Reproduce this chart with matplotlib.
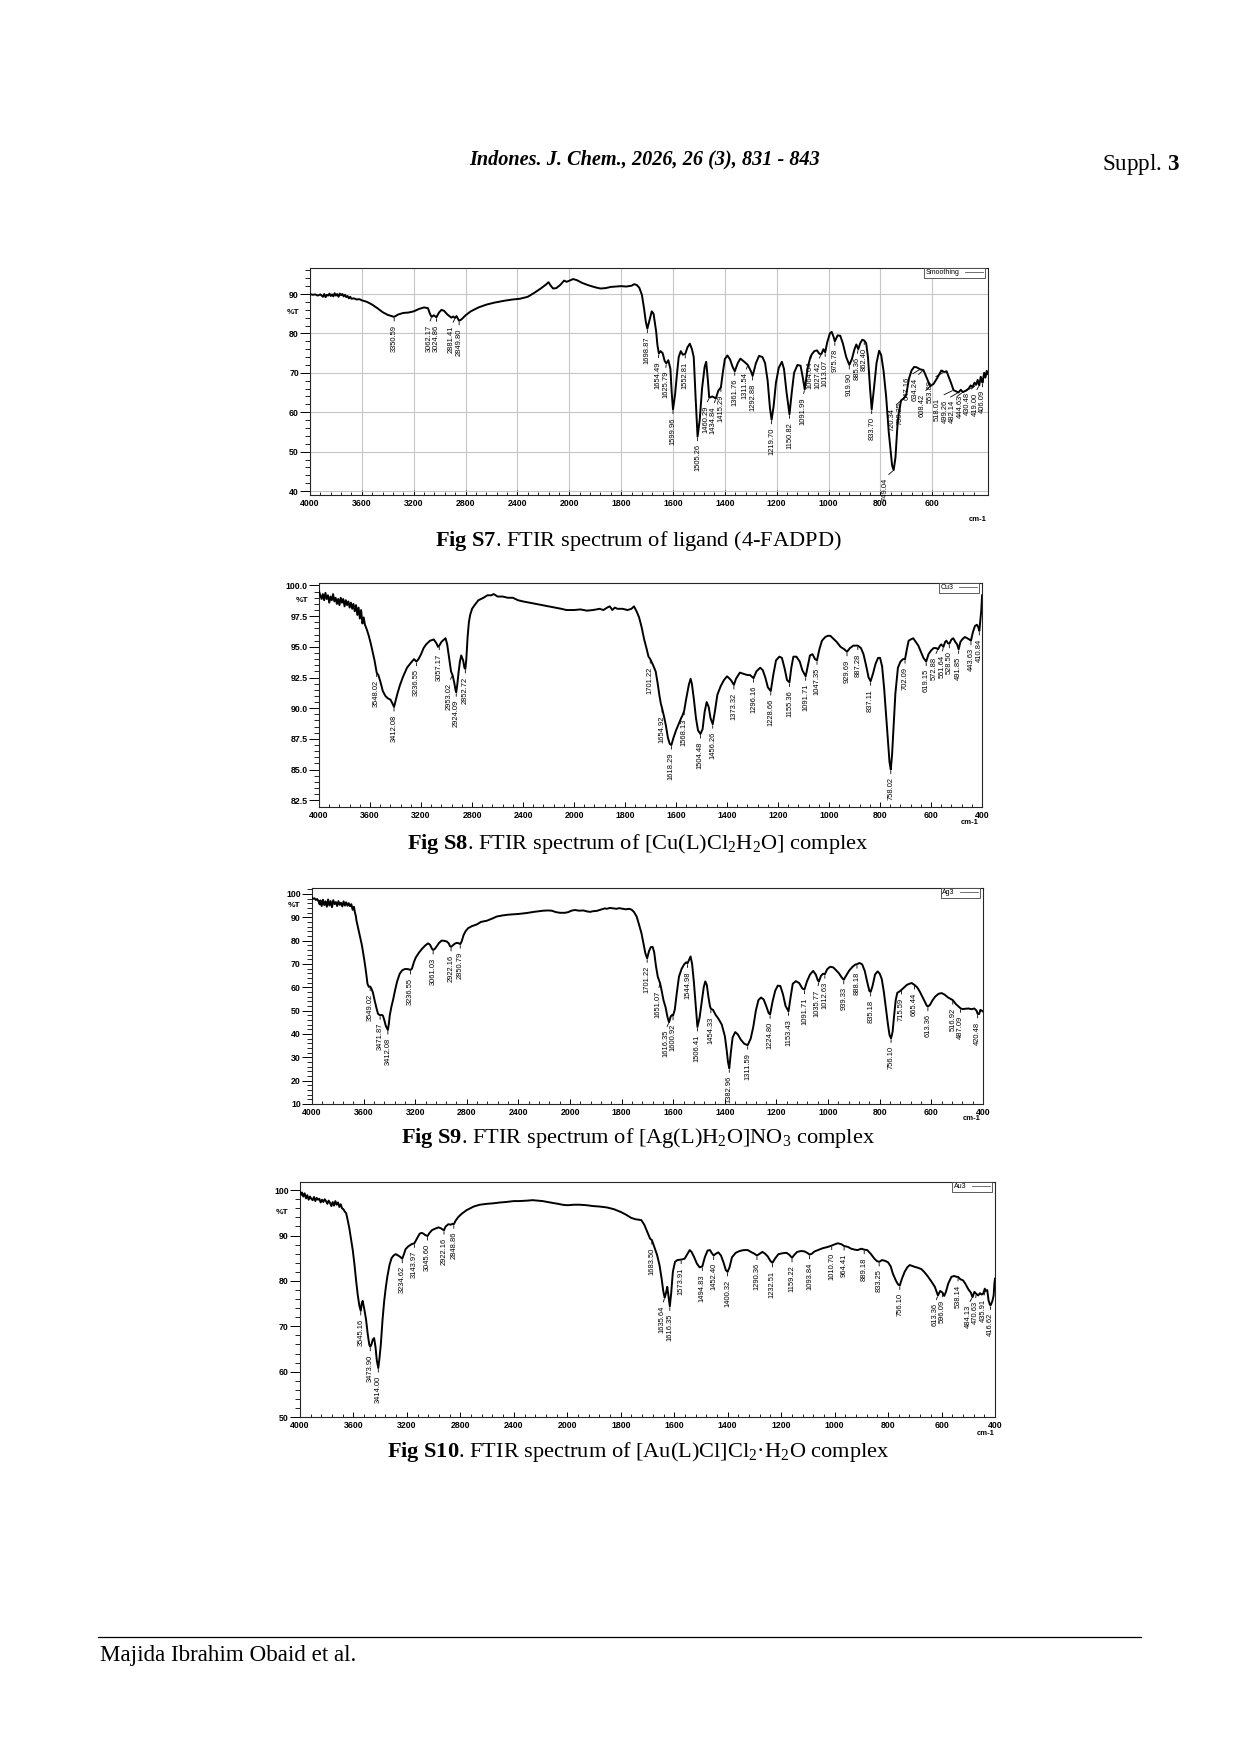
import numpy as np
import matplotlib
matplotlib.use("Agg")
import matplotlib.pyplot as plt
from matplotlib.lines import Line2D

plt.rcParams['font.family'] = ['Liberation Sans', 'DejaVu Sans']
plt.rcParams['mathtext.fontset'] = 'custom'
plt.rcParams['mathtext.rm'] = 'Liberation Serif'
plt.rcParams['mathtext.it'] = 'Liberation Serif:italic'
plt.rcParams['mathtext.bf'] = 'Liberation Serif:bold'

# ---- Fig S7: ligand (4-FADPD)
s7_wn = [4000, 3980, 3960, 3940, 3920, 3900, 3890, 3880, 3870, 3860, 3850, 3840, 3830, 3820, 3810,
         3800, 3790, 3780, 3770, 3760, 3750, 3740, 3730, 3720, 3710, 3700, 3690, 3680, 3660, 3640,
         3620, 3600, 3560, 3520, 3480, 3440, 3400, 3350.59, 3320, 3280, 3240, 3200, 3160, 3120, 3090,
         3075, 3062.17, 3045, 3024.86, 3005, 2985, 2965, 2940, 2910, 2895, 2881.41, 2870, 2849.80, 2830,
         2800, 2760, 2700, 2640, 2580, 2500, 2440, 2380, 2320, 2270, 2220, 2180, 2160, 2145, 2125,
         2100, 2070, 2040, 2020, 2005, 1985, 1970, 1950, 1925, 1900, 1880, 1860, 1840, 1820, 1800,
         1780, 1760, 1750, 1740, 1730, 1720, 1712, 1705, 1698.87, 1690, 1682, 1675, 1665, 1660,
         1654.49, 1648, 1640, 1632, 1625.79, 1618, 1610, 1605, 1599.96, 1592, 1585, 1578, 1570, 1562,
         1552.81, 1544, 1535, 1527, 1520, 1513, 1505.26, 1497, 1488, 1478, 1472, 1466, 1460.29, 1448,
         1434.84, 1425, 1415.29, 1408, 1400, 1390, 1380, 1370, 1361.76, 1350, 1340, 1325, 1311.54, 1300,
         1292.88, 1280, 1268, 1255, 1245, 1235, 1226, 1219.70, 1212, 1203, 1192, 1180, 1172, 1162,
         1150.82, 1142, 1133, 1120, 1108, 1100, 1091.99, 1080, 1070, 1064.64, 1055, 1045, 1035, 1027.42,
         1020, 1013.07, 1005, 995, 988, 980, 975.78, 965, 955, 945, 932, 919.90, 910, 900, 893, 885.36,
         878, 870, 862.40, 855, 848, 840, 833.70, 825, 815, 805, 797, 788, 778, 768, 755, 749.04, 742,
         735, 730, 720.34, 710, 700.25, 690, 680, 670, 660, 647.16, 634.24, 620, 608.42, 595, 580, 565,
         553.89, 545, 528, 518.01, 508, 499.26, 490, 482.14, 470, 460, 452, 444.63, 437, 430.48, 425,
         419.00, 413, 409, 406.09, 400, 395, 390, 385]
s7_t = [90.0, 89.8, 89.9, 89.6, 89.9, 89.3, 90.0, 89.2, 89.8, 89.6, 90.1, 89.5, 89.9, 89.4, 90.2,
        89.6, 90.0, 89.3, 90.1, 89.7, 90.0, 89.4, 89.8, 89.2, 89.5, 88.9, 89.3, 88.8, 88.9, 88.6,
        88.7, 88.4, 88.0, 87.3, 86.4, 85.4, 84.7, 84.2, 84.8, 85.2, 85.3, 85.6, 86.2, 86.6, 86.4,
        85.0, 84.2, 84.6, 84.1, 85.3, 86.0, 85.7, 84.8, 84.0, 84.3, 83.9, 84.4, 83.2, 83.6,
        84.6, 85.6, 86.6, 87.3, 87.8, 88.3, 88.6, 88.8, 89.3, 90.3, 91.4, 92.4, 93.0, 92.2, 91.4,
        91.5, 92.3, 93.4, 93.1, 93.3, 93.8, 93.5, 92.8, 92.2, 91.7, 91.4, 91.5, 91.8, 91.9, 92.0,
        91.9, 92.1, 92.5, 92.3, 91.6, 89.8, 86.5, 83.0, 81.2, 83.5, 85.6, 85.0, 80.5, 77.0,
        74.9, 75.5, 75.0, 73.0, 72.4, 73.2, 71.0, 65.0, 60.7, 64.5, 69.5, 74.0, 75.5, 74.6,
        74.8, 76.5, 77.4, 76.0, 74.0, 64.0, 53.8, 58.0, 66.0, 71.5, 72.8, 68.5, 63.7, 64.0,
        63.5, 65.5, 66.3, 70.0, 73.5, 74.4, 73.4, 71.5, 70.4, 72.5, 73.6, 72.8, 72.0, 70.5,
        69.2, 72.5, 74.3, 74.0, 72.5, 68.0, 61.0, 58.1, 61.5, 67.5, 71.3, 72.8, 71.0, 65.0,
        59.5, 65.0, 70.0, 72.0, 71.8, 69.0, 65.8, 71.5, 74.0, 74.7, 75.5, 75.7, 74.8, 74.8,
        76.0, 75.2, 77.8, 80.0, 80.4, 79.0, 78.0, 79.5, 79.4, 77.5, 74.0, 72.0, 73.5, 76.0, 77.2, 76.0,
        77.5, 78.4, 78.2, 77.5, 74.0, 66.0, 60.7, 66.0, 72.5, 75.6, 74.5, 70.5, 64.0, 55.0, 46.5, 45.3, 48.5,
        56.0, 59.5, 63.0, 63.5, 64.5, 68.5, 70.6, 71.5, 71.4, 70.9, 70.7, 68.5, 66.6, 67.2, 68.8, 70.6,
        70.2, 70.4, 67.5, 65.6, 65.3, 65.0, 65.7, 65.1, 65.5, 66.0, 66.8, 66.4, 67.5, 67.0, 68.2,
        66.8, 69.0, 68.0, 67.5, 70.0, 68.8, 70.5, 69.7]
s7_peaks = ['3350.59', '3062.17', '3024.86', '2881.41', '2849.80', '1698.87', '1654.49', '1625.79',
            '1599.96', '1552.81', '1505.26', '1460.29', '1434.84', '1415.29', '1361.76', '1311.54',
            '1292.88', '1219.70', '1150.82', '1091.99', '1064.64', '1027.42', '1013.07', '975.78',
            '919.90', '885.36', '862.40', '833.70', '749.04', '720.34', '700.25', '647.16', '634.24',
            '608.42', '553.89', '518.01', '499.26', '482.14', '444.63', '430.48', '419.00', '406.09']

# ---- Fig S8: Cu complex
s8_wn = [4000, 3990, 3980, 3970, 3960, 3950, 3940, 3930, 3920, 3910, 3900, 3890, 3880, 3870, 3860,
         3850, 3840, 3830, 3820, 3810, 3800, 3790, 3780, 3770, 3760, 3750, 3740, 3730, 3720, 3710,
         3700, 3690, 3680, 3670, 3660, 3650, 3640, 3625, 3610, 3595, 3580, 3565, 3548.02, 3535, 3520,
         3500, 3480, 3460, 3440, 3425, 3412.08, 3400, 3385, 3365, 3340, 3310, 3280, 3255, 3236.55,
         3220, 3200, 3180, 3160, 3130, 3100, 3080, 3067, 3057.17, 3040, 3020, 3008, 2995, 2980, 2965,
         2953.02, 2940, 2930, 2924.09, 2915, 2905, 2895, 2885, 2870, 2860, 2852.72, 2845, 2835, 2825,
         2815, 2800, 2780, 2750, 2710, 2680, 2650, 2630, 2600, 2560, 2520, 2480, 2440, 2400, 2350,
         2300, 2250, 2200, 2150, 2100, 2060, 2030, 2000, 1975, 1950, 1925, 1900, 1885, 1870, 1860,
         1850, 1840, 1830, 1810, 1790, 1775, 1765, 1755, 1745, 1735, 1725, 1715, 1708, 1701.22, 1690,
         1680, 1672, 1665, 1660, 1654.92, 1647, 1640, 1632, 1625, 1618.29, 1610, 1600, 1590, 1580,
         1575, 1568.13, 1560, 1550, 1543, 1538, 1530, 1522, 1514, 1504.48, 1496, 1488, 1480, 1472,
         1465, 1456.26, 1448, 1438, 1425, 1412, 1400, 1385, 1373.32, 1365, 1350, 1335, 1320, 1310,
         1296.16, 1285, 1270, 1260, 1250, 1240, 1228.66, 1218, 1208, 1195, 1185, 1175, 1165, 1155.36,
         1148, 1140, 1128, 1115, 1105, 1091.71, 1083, 1075, 1065, 1055, 1047.35, 1038, 1028, 1015,
         1005, 995, 985, 970, 955, 940, 929.69, 918, 905, 895, 887.28, 875, 865, 855, 845, 837.11,
         828, 818, 808, 800, 792, 784, 776, 769, 763, 758.02, 753, 747, 740, 730, 720, 710, 702.09,
         695, 688, 680, 670, 660, 650, 640, 630, 619.15, 610, 600, 590, 580, 572.88, 565, 560, 551.64,
         545, 540, 534, 528.50, 520, 513, 505, 498, 491.85, 485, 478, 468, 458, 450, 443.63, 436,
         428, 420, 415, 410.84, 406, 403, 400]
s8_t = [99.5, 99.2, 98.9, 99.3, 98.8, 99.4, 98.9, 99.2, 98.6, 99.1, 98.8, 99.3, 98.7, 99.0, 98.5,
        98.9, 98.4, 99.0, 98.6, 98.9, 98.3, 98.8, 98.4, 98.7, 98.2, 98.6, 98.1, 98.5, 97.9, 98.4,
        97.6, 98.2, 97.3, 98.0, 96.9, 97.4, 96.8, 96.4, 95.9, 95.3, 94.6, 93.9, 92.9, 92.7, 92.2,
        91.4, 91.0, 90.8, 90.7, 90.4, 90.1, 90.6, 91.2, 91.9, 92.6, 93.3, 93.7, 94.0, 93.8,
        94.0, 94.4, 94.9, 95.2, 95.5, 95.6, 95.3, 95.0, 95.1, 95.4, 95.6, 95.7, 95.2, 94.1, 93.0,
        92.7, 92.1, 91.5, 91.3, 92.0, 93.0, 93.8, 94.3, 93.9, 93.3, 93.2, 94.0, 95.8, 97.0,
        97.6, 98.1, 98.4, 98.8, 99.0, 99.2, 99.2, 99.3, 99.1, 99.1, 99.0, 99.0, 98.8, 98.7, 98.6,
        98.5, 98.4, 98.3, 98.2, 98.1, 98.0, 98.0, 98.0, 98.05, 97.95, 98.0, 98.1, 98.0, 98.2, 98.3,
        98.0, 98.2, 98.1, 98.1, 98.0, 98.1, 98.3, 97.9, 97.4, 96.6, 95.6, 94.8, 94.2, 94.0, 93.5,
        93.0, 92.0, 91.0, 90.4, 90.0, 89.3, 88.6, 87.6, 87.1, 87.0, 87.6, 88.2, 88.7, 89.2,
        89.4, 89.8, 90.8, 91.9, 92.4, 92.0, 90.7, 89.2, 88.2, 87.9, 88.3, 89.7, 90.5, 90.1,
        89.2, 88.7, 89.7, 91.1, 91.8, 92.3, 92.6, 92.3, 91.9, 92.4, 92.9, 92.8, 92.7, 92.7,
        92.45, 93.0, 93.3, 93.1, 92.5, 91.7, 91.4, 92.8, 93.9, 94.2, 94.1, 93.3, 92.3, 92.1,
        93.3, 94.2, 94.2, 93.8, 93.1, 92.6, 93.5, 94.3, 94.4, 94.0, 93.9, 94.8, 95.5, 95.8,
        95.9, 95.9, 95.7, 95.4, 95.0, 94.8, 94.6, 94.9, 95.1, 95.1, 95.1, 94.9, 94.4, 93.5, 92.5, 92.2,
        92.8, 93.6, 94.1, 94.1, 93.4, 91.6, 89.3, 87.4, 85.6, 85.0, 86.2, 88.5, 91.2, 93.3, 93.8, 94.0, 94.0,
        94.8, 95.5, 95.6, 95.7, 95.4, 95.1, 94.6, 94.1, 93.8, 94.4, 94.7, 94.9, 94.9, 94.8, 95.1, 95.2, 95.0,
        95.4, 95.5, 95.3, 95.25, 95.6, 95.7, 95.4, 95.2, 94.8, 95.4, 95.6, 95.8, 95.7, 95.6, 95.5, 96.2,
        96.7, 96.8, 96.6, 96.3, 97.3, 98.0, 99.2]
s8_peaks = ['3548.02', '3412.08', '3236.55', '3057.17', '2953.02', '2924.09', '2852.72', '1701.22',
            '1654.92', '1618.29', '1568.13', '1504.48', '1456.26', '1373.32', '1296.16', '1228.66',
            '1155.36', '1091.71', '1047.35', '929.69', '887.28', '837.11', '758.02', '702.09',
            '619.15', '572.88', '551.64', '528.50', '491.85', '443.63', '410.84']

# ---- Fig S9: Ag complex
s9_wn = [4000, 3990, 3980, 3970, 3960, 3950, 3940, 3935, 3925, 3915, 3905, 3895, 3885, 3875, 3865,
         3855, 3845, 3835, 3825, 3815, 3805, 3795, 3785, 3775, 3765, 3755, 3745, 3735, 3725, 3715,
         3705, 3695, 3685, 3675, 3667, 3660, 3655, 3645, 3630, 3615, 3605, 3590, 3580, 3570, 3560,
         3549.02, 3540, 3528, 3515, 3500, 3488, 3476, 3471.87, 3460, 3450, 3440, 3428, 3412.08, 3405,
         3397, 3385, 3370, 3355, 3340, 3320, 3300, 3280, 3260, 3245, 3236.55, 3225, 3210, 3195, 3170,
         3145, 3120, 3100, 3085, 3070, 3061.03, 3050, 3035, 3015, 2995, 2975, 2955, 2940, 2930,
         2922.16, 2910, 2895, 2880, 2865, 2850.79, 2840, 2826, 2810, 2790, 2760, 2723, 2690, 2645,
         2600, 2568, 2520, 2477, 2400, 2336, 2280, 2240, 2207, 2170, 2142, 2110, 2078, 2040, 2013,
         1995, 1981, 1965, 1948, 1935, 1922, 1910, 1897, 1880, 1865, 1858, 1845, 1832, 1820, 1810,
         1800, 1785, 1770, 1761, 1752, 1742, 1733, 1723, 1715, 1708, 1701.22, 1694, 1687, 1680, 1674,
         1667, 1660, 1651.07, 1645, 1638, 1630, 1622, 1616.35, 1610, 1604, 1600.92, 1594, 1587, 1578,
         1568, 1558, 1550, 1544.98, 1538, 1533, 1527, 1520, 1513, 1506.41, 1498, 1490, 1482, 1476,
         1470, 1464, 1458, 1454.33, 1446, 1436, 1425, 1412, 1400, 1393, 1388, 1382.96, 1377, 1370,
         1360, 1350, 1338, 1325, 1311.59, 1300, 1290, 1280, 1270, 1260, 1250, 1240, 1230, 1224.80,
         1215, 1205, 1195, 1185, 1175, 1165, 1153.43, 1145, 1137, 1125, 1112, 1100, 1091.71, 1082,
         1070, 1058, 1048, 1040, 1035.77, 1028, 1020, 1012.63, 1003, 992, 980, 970, 958, 948, 939.33,
         930, 918, 905, 895, 888.18, 878, 868, 858, 848, 840, 835.18, 828, 818, 808, 800, 792, 784,
         776, 768, 762, 756.10, 750, 745, 738, 732, 722, 715.59, 705, 695, 685, 676, 665.44, 655, 645,
         635, 625, 618, 613.36, 605, 595, 585, 572, 560, 548, 535, 522, 516.92, 505, 495, 487.09, 478,
         468, 455, 445, 433, 425, 420.48, 415, 410, 405, 400]
s9_t = [98.4, 97.9, 98.1, 97.4, 97.8, 96.9, 95.5, 97.2, 94.8, 97.5, 95.2, 96.8, 94.5, 97.6, 95.0,
        96.9, 94.3, 97.3, 95.6, 96.5, 94.8, 96.9, 95.3, 96.2, 94.6, 96.8, 95.0, 96.4, 94.9, 96.0,
        94.7, 95.6, 93.2, 94.5, 92.0, 90.5, 88.5, 86.0, 82.4, 78.5, 75.3, 70.0, 66.0, 61.5, 60.2,
        60.3, 59.5, 57.8, 54.5, 51.0, 48.6, 48.1, 48.0, 48.2, 47.8, 46.0, 43.5, 41.7, 44.0,
        48.0, 51.5, 55.0, 59.0, 62.5, 65.8, 67.3, 67.8, 67.8, 67.6, 67.4, 68.0, 70.8, 72.8, 74.9,
        76.6, 78.0, 78.8, 78.2, 76.5, 76.0, 76.3, 77.4, 79.0, 80.0, 79.9, 79.6, 78.8, 77.6,
        77.3, 77.9, 78.6, 79.0, 78.9, 78.5, 79.6, 82.2, 84.0, 85.3, 86.2, 86.9, 88.0, 88.5,
        89.5, 90.3, 90.8, 91.1, 91.4, 91.8, 92.3, 92.6, 92.8, 92.9, 92.8, 92.2, 91.9, 91.9, 92.2,
        92.8, 93.1, 92.8, 92.9, 92.5, 92.3, 92.6, 92.7, 93.3, 93.8, 93.6, 94.0, 93.8, 93.6, 93.9,
        93.7, 93.4, 93.6, 93.2, 92.2, 90.3, 87.0, 83.0, 78.5, 74.5, 72.4, 75.5, 77.2, 77.3, 75.0,
        69.0, 64.5, 61.7, 58.5, 54.5, 51.5, 47.0, 45.0, 47.5, 48.2, 47.8, 50.5, 57.0, 64.5,
        67.8, 69.8, 70.7, 70.2, 72.0, 73.2, 70.0, 62.0, 52.0, 43.0, 47.0, 53.5, 60.0, 62.5,
        61.0, 56.0, 52.0, 50.8, 50.3, 48.2, 46.5, 44.0, 39.0, 33.0, 28.0, 25.3, 32.0, 38.5,
        40.8, 39.8, 37.5, 35.8, 35.2, 38.0, 43.0, 50.0, 54.5, 55.6, 54.8, 52.0, 48.8, 48.4,
        54.0, 58.5, 60.7, 60.5, 57.0, 52.0, 49.7, 56.0, 61.5, 62.6, 61.8, 59.5, 59.0, 62.5,
        65.5, 67.0, 65.5, 63.0, 62.4, 64.8, 65.8, 65.6, 67.8, 68.8, 68.5, 67.4, 66.0, 64.3, 63.2,
        65.0, 67.2, 68.8, 69.7, 69.9, 70.4, 69.8, 67.0, 62.0, 58.4, 58.0, 60.5, 65.5, 66.8, 65.8, 63.5, 58.0,
        51.0, 44.0, 39.5, 38.1, 41.0, 47.0, 54.5, 57.6, 58.3, 58.9, 60.0, 61.0, 61.5, 61.8, 61.0, 60.0, 58.2,
        56.0, 53.9, 52.2, 51.7, 52.5, 54.5, 56.0, 57.2, 57.5, 56.8, 55.6, 54.8, 54.5, 52.8, 51.8, 51.0, 50.6,
        50.8, 50.9, 50.6, 50.9, 50.0, 48.6, 48.5, 50.3, 50.0, 49.6]
s9_peaks = ['3549.02', '3471.87', '3412.08', '3236.55', '3061.03', '2922.16', '2850.79', '1701.22',
            '1651.07', '1616.35', '1600.92', '1544.98', '1506.41', '1454.33', '1382.96', '1311.59',
            '1224.80', '1153.43', '1091.71', '1035.77', '1012.63', '939.33', '888.18', '835.18',
            '756.10', '715.59', '665.44', '613.36', '516.92', '487.09', '420.48']

# ---- Fig S10: Au complex
s10_wn = [4000, 3990, 3985, 3975, 3965, 3955, 3945, 3935, 3925, 3915, 3905, 3895, 3885, 3875, 3865,
          3855, 3845, 3835, 3825, 3815, 3805, 3795, 3785, 3775, 3765, 3755, 3745, 3735, 3725, 3715,
          3705, 3695, 3685, 3675, 3665, 3654, 3642, 3630, 3618, 3605, 3592, 3580, 3568, 3556, 3545.16,
          3538, 3531, 3520, 3506, 3493, 3481, 3473.90, 3465, 3455, 3445, 3435, 3425, 3414.00, 3405,
          3395, 3382, 3370, 3358, 3346, 3330, 3315, 3300, 3284, 3265, 3250, 3234.62, 3222, 3210, 3190,
          3165, 3143.97, 3125, 3105, 3090, 3075, 3062, 3045.60, 3030, 3012, 2990, 2963, 2945, 2931,
          2922.16, 2910, 2890, 2870, 2859, 2848.86, 2835, 2815, 2790, 2753, 2700, 2654, 2600, 2556,
          2500, 2457, 2400, 2358, 2300, 2259, 2220, 2185, 2150, 2111, 2070, 2037, 2010, 1994, 1975,
          1955, 1930, 1903, 1880, 1852, 1825, 1800, 1780, 1761, 1745, 1735, 1723, 1712, 1705, 1697,
          1690, 1683.50, 1675, 1664, 1655, 1647, 1641, 1635.64, 1630, 1626, 1621, 1616.35, 1611, 1605,
          1597, 1588, 1573.91, 1561, 1550, 1542, 1535, 1525, 1515, 1505, 1494.83, 1485, 1475, 1466,
          1460, 1452.40, 1444, 1435, 1425, 1415, 1407, 1400.32, 1393, 1384, 1370, 1355, 1340, 1325,
          1310, 1300, 1290.36, 1280, 1270, 1260, 1250, 1240, 1232.51, 1222, 1210, 1195, 1180, 1170,
          1159.22, 1150, 1140, 1125, 1112, 1100, 1093.84, 1085, 1075, 1062, 1045, 1025, 1010.70, 998,
          988, 975, 964.41, 950, 938, 925, 914, 900, 889.18, 878, 865, 851, 842, 833.25, 822, 810, 800,
          790, 782, 770, 762, 756.10, 748, 738, 728, 719, 710, 700, 688, 675, 662, 650, 637, 625, 617,
          613.36, 605, 596.09, 590, 584, 575, 563, 552, 544, 538.14, 530, 519, 510, 500, 490, 484.13,
          477, 470.63, 463, 456, 450, 444, 438, 435.91, 429, 424, 419, 416.62, 410, 405, 402, 400]
s10_t = [99.6, 99.0, 99.5, 98.6, 99.3, 98.2, 98.9, 97.9, 98.6, 98.1, 97.8, 98.5, 97.6, 98.3, 97.9,
         98.1, 97.3, 97.9, 97.4, 98.0, 97.6, 97.0, 97.7, 97.2, 96.5, 97.4, 96.6, 97.6, 96.8, 97.3,
         96.3, 96.9, 96.0, 95.8, 95.3, 94.9, 93.3, 91.5, 89.2, 86.8, 83.6, 80.1, 77.0, 74.6, 73.4,
         75.0, 75.6, 74.0, 71.6, 68.3, 65.9, 65.5, 66.0, 67.1, 67.4, 65.5, 62.5, 60.8, 63.0,
         66.0, 71.5, 75.5, 78.5, 81.0, 83.5, 85.0, 85.6, 85.9, 85.6, 85.3, 84.9, 85.9, 87.0, 87.6,
         88.1, 88.3, 89.3, 90.4, 90.6, 90.4, 90.1, 89.9, 90.6, 91.2, 91.5, 91.8, 91.6, 91.3,
         91.2, 92.0, 92.5, 92.4, 92.6, 92.5, 93.3, 94.1, 94.8, 95.6, 96.4, 96.8, 97.0, 97.1,
         97.3, 97.4, 97.6, 97.6, 97.7, 97.8, 97.7, 97.6, 97.4, 97.2, 97.0, 96.8, 96.7, 96.7, 96.8,
         96.8, 96.7, 96.5, 96.4, 96.2, 95.8, 95.2, 94.6, 93.9, 93.6, 93.5, 93.4, 92.4, 91.4, 90.2,
         89.3, 89.0, 87.6, 85.7, 83.5, 80.5, 77.8, 76.3, 77.5, 78.7, 76.5, 74.4, 77.5, 82.0,
         84.2, 84.6, 84.7, 84.9, 86.0, 86.8, 86.4, 85.2, 83.8, 83.0, 83.2, 85.3, 86.7, 86.8,
         86.2, 85.6, 86.0, 86.3, 85.6, 84.0, 82.4, 82.0, 83.0, 85.2, 86.2, 86.6, 86.8, 86.8,
         86.3, 86.0, 85.6, 86.0, 86.4, 86.0, 85.4, 84.4, 84.0, 85.0, 85.9, 86.1, 86.2, 85.8,
         85.1, 85.8, 86.4, 86.6, 86.5, 86.1, 85.8, 86.0, 86.5, 86.8, 87.2, 87.5, 87.8, 88.1,
         88.3, 88.1, 87.7, 87.5, 87.1, 86.9, 86.8, 87.1, 86.9, 86.8, 86.0, 84.9, 84.4, 84.2, 84.6, 84.4, 84.1,
         83.2, 81.6, 80.0, 79.2, 79.0, 80.5, 82.0, 83.0, 83.5, 83.3, 83.1, 82.9, 82.6, 81.8, 80.9, 79.8, 78.7, 77.4,
         76.8, 77.8, 77.4, 76.7, 77.5, 79.4, 80.9, 81.1, 80.9, 80.9, 80.4, 80.1, 79.3, 78.2, 77.4, 76.4,
         77.6, 77.2, 76.8, 77.3, 77.0, 77.2, 78.3, 77.8, 78.0, 75.7, 74.8, 74.6, 75.5, 76.8, 79.5, 80.5]
s10_peaks = ['3545.16', '3473.90', '3414.00', '3234.62', '3143.97', '3045.60', '2922.16', '2848.86',
             '1683.50', '1635.64', '1616.35', '1573.91', '1494.83', '1452.40', '1400.32', '1290.36',
             '1232.51', '1159.22', '1093.84', '1010.70', '964.41', '889.18', '833.25', '756.10',
             '613.36', '596.09', '538.14', '484.13', '470.63', '435.91', '416.62']

x_major = [4000, 3600, 3200, 2800, 2400, 2000, 1800, 1600, 1400, 1200, 1000, 800, 600, 400]


def fwd(w):
    # FTIR style: 4000-2000 drawn at half the scale of 2000-400
    w = np.asarray(w, dtype=float)
    return np.where(w > 2000, 2000 + (w - 2000) / 2.0, w)


def inv(s):
    s = np.asarray(s, dtype=float)
    return np.where(s > 2000, 2000 + (s - 2000) * 2.0, s)


fig = plt.figure(figsize=(12.4, 17.54), dpi=100)
fig.patch.set_facecolor('white')

label_font = ['Liberation Sans Narrow', 'Liberation Sans', 'DejaVu Sans']


def draw_panel(rect, wn, tr, peaks, ylim, ymajor, ystep, yfmt, pct_y, leg_text,
               right=400, grid=False, show400=True, cm_pos=(0.985, -0.07)):
    ax = fig.add_axes(rect)
    ax.set_xscale('function', functions=(fwd, inv))
    wn = np.array(wn)
    tr = np.array(tr)
    ax.plot(wn, tr, color='black', lw=1.4, zorder=3)
    ax.set_xlim(4000, right)
    ax.set_ylim(*ylim)

    xt = [t for t in x_major if t >= right and (show400 or t != 400)]
    ax.set_xticks(xt)
    ax.set_xticklabels([str(t) for t in xt])
    xminor = [w for w in range(4000, 2000, -80) if w % 400] + \
             [w for w in range(2000, 399, -40) if w % 200]
    ax.set_xticks([w for w in xminor if w >= right], minor=True)
    ax.set_yticks(ymajor)
    ax.set_yticklabels([yfmt % v for v in ymajor])
    ax.set_yticks(np.arange(ymajor[0], ylim[1], ystep), minor=True)

    ax.tick_params(axis='x', which='major', direction='in', length=3.5, width=0.7, pad=3, labelsize=6.3)
    ax.tick_params(axis='x', which='minor', direction='in', length=2.2, width=0.6)
    ax.tick_params(axis='y', which='major', direction='out', length=7, width=0.7, pad=1, labelsize=6.3)
    ax.tick_params(axis='y', which='minor', direction='out', length=3.5, width=0.6)
    for lab in ax.get_xticklabels() + ax.get_yticklabels():
        lab.set_fontweight('bold')
    for sp in ax.spines.values():
        sp.set_linewidth(0.8)
        sp.set_color('0.15')

    if grid:
        ax.grid(True, which='major', color='0.78', lw=0.8)
        ax.set_axisbelow(True)

    ax.annotate('%T', xy=(0, pct_y), xycoords=('axes fraction', 'data'), xytext=(-8, 0),
                textcoords='offset points', ha='right', va='center', fontsize=6, fontweight='bold')
    ax.text(cm_pos[0], cm_pos[1], 'cm-1', transform=ax.transAxes, ha='center', va='center',
            fontsize=5.5, fontweight='bold')

    h = Line2D([], [], color='0.35', lw=0.6)
    leg = ax.legend([h], [leg_text], loc='upper right', bbox_to_anchor=(0.995, 1.0),
                    borderaxespad=0, markerfirst=False, fancybox=False, framealpha=1,
                    edgecolor='0.25', fontsize=5, handlelength=2.6, handletextpad=0.8,
                    borderpad=0.2)
    leg.get_frame().set_linewidth(0.6)

    # peak labels: rotated, hanging below the band, pushed left when crowded
    xs = np.array([float(s) for s in peaks])
    ys = np.interp(xs, wn[::-1], tr[::-1])
    px = ax.transData.transform(np.column_stack([xs, ys]))[:, 0]
    pos = px.copy()
    last = None
    for i in np.argsort(px)[::-1]:
        if last is not None and pos[i] > last - 7.5:
            pos[i] = last - 7.5
        last = pos[i]
    for s, x, y, p0, p1 in zip(peaks, xs, ys, px, pos):
        ax.annotate(s, xy=(x, y), xytext=((p1 - p0) * 0.72, -5.5), textcoords='offset points',
                    rotation=90, ha='center', va='top', fontsize=5.4, family=label_font,
                    zorder=4,
                    arrowprops=dict(arrowstyle='-', lw=0.6, color='black', shrinkA=0.5,
                                    shrinkB=1.0, relpos=(0.5, 1.0)))
    return ax


draw_panel([0.25, 0.7178, 0.5468, 0.1294], s7_wn, s7_t, s7_peaks, (39, 96.6),
           [40, 50, 60, 70, 80, 90], 2, '%d', 85.3, 'Smoothing', right=385, grid=True,
           show400=False, cm_pos=(0.985, -0.106))
draw_panel([0.2573, 0.5399, 0.5347, 0.1277], s8_wn, s8_t, s8_peaks, (81.95, 100.2),
           [82.5, 85.0, 87.5, 90.0, 92.5, 95.0, 97.5, 100.0], 0.5, '%.1f', 98.75, 'Cu3',
           cm_pos=(0.982, -0.067))
draw_panel([0.2516, 0.3706, 0.5411, 0.1231], s9_wn, s9_t, s9_peaks, (10, 102.5),
           [10, 20, 30, 40, 50, 60, 70, 80, 90, 100], 2, '%d', 95, 'Ag3',
           cm_pos=(0.983, -0.069))
draw_panel([0.2419, 0.1921, 0.5605, 0.134], s10_wn, s10_t, s10_peaks, (50, 101.8),
           [50, 60, 70, 80, 90, 100], 2, '%d', 95, 'Au3', cm_pos=(0.986, -0.068))

serif = ['Liberation Serif', 'DejaVu Serif']
fig.text(0.5198, 0.9088, 'Indones. J. Chem., 2026, 26 (3), 831 - 843', ha='center', va='center',
         family=serif, style='italic', weight='bold', fontsize=14.6)
fig.text(0.9516, 0.906, r'Suppl. $\mathbf{3}$', ha='right', va='center', family=serif, fontsize=16.7)

fig.text(0.5145, 0.6916, r'$\mathbf{Fig\ S7}$. FTIR spectrum of ligand (4-FADPD)',
         ha='center', va='center', family=serif, fontsize=16.1)
fig.text(0.5145, 0.5188, r'$\mathbf{Fig\ S8}$. FTIR spectrum of [Cu(L)Cl$_2$H$_2$O] complex',
         ha='center', va='center', family=serif, fontsize=16.1)
fig.text(0.5145, 0.3512, r'$\mathbf{Fig\ S9}$. FTIR spectrum of [Ag(L)H$_2$O]NO$_3$ complex',
         ha='center', va='center', family=serif, fontsize=16.1)
fig.text(0.5145, 0.1722, r'$\mathbf{Fig\ S10}$. FTIR spectrum of [Au(L)Cl]Cl$_2$·H$_2$O complex',
         ha='center', va='center', family=serif, fontsize=16.1)

fig.add_artist(Line2D([0.079, 0.92], [0.0667, 0.0667], transform=fig.transFigure,
                      color='black', lw=0.9))
fig.text(0.0806, 0.0564, 'Majida Ibrahim Obaid et al.', ha='left', va='center',
         family=serif, fontsize=16.6)

fig.savefig('out.png', dpi=100, facecolor='white')
